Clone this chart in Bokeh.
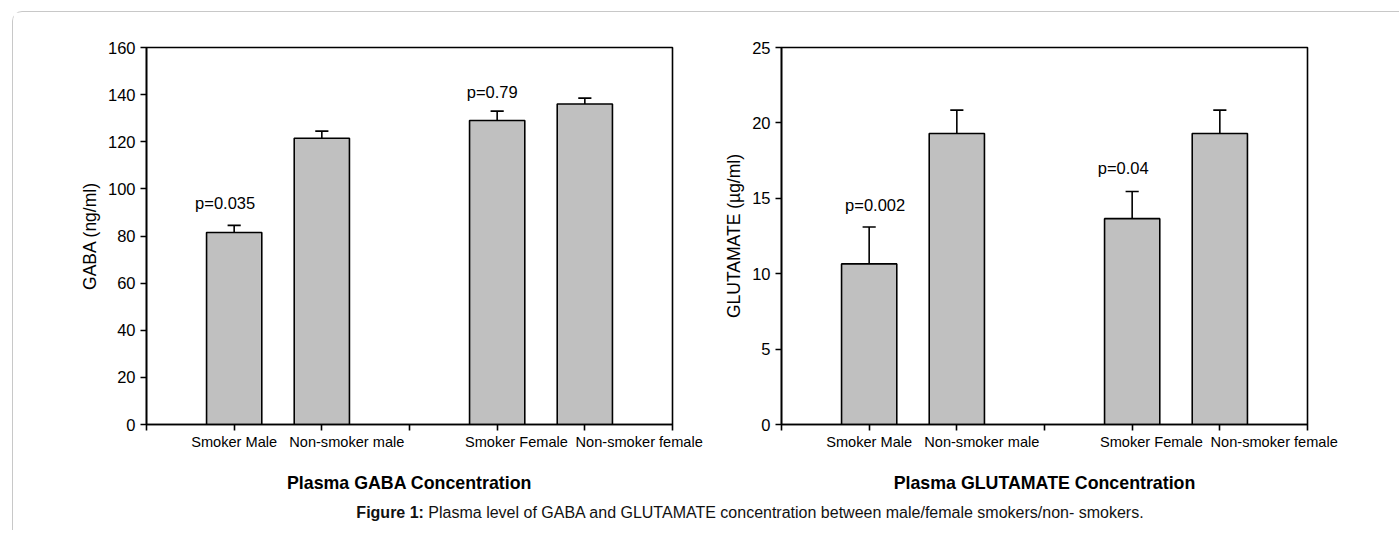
from bokeh.plotting import figure
from bokeh.models import Range1d, FixedTicker, ColumnDataSource, LabelSet, Div, Spacer
from bokeh.layouts import row, column
from bokeh.core.properties import value
from bokeh.embed import file_html
from bokeh.resources import INLINE

# ---------------- data ----------------
categories = ["Smoker Male", "Non-smoker male", "Smoker Female", "Non-smoker female"]
groups = [0, 0, 1, 1]          # male / female
within = [0, 1, 0, 1]          # smoker / non-smoker
gaba_mean = [81.5, 121.5, 129.0, 136.0]
gaba_err = [3.0, 3.0, 4.0, 2.5]
glut_mean = [10.65, 19.3, 13.65, 19.3]
glut_err = [2.45, 1.55, 1.8, 1.55]
gaba_p = ["p=0.035", "", "p=0.79", ""]
glut_p = ["p=0.002", "", "p=0.04", ""]
gaba_ticks = [0, 20, 40, 60, 80, 100, 120, 140, 160]
glut_ticks = [0, 5, 10, 15, 20, 25]

# ---------------- style / layout ----------------
FONT = value("Liberation Sans")
BAR_W = 0.63
CAP_W = 0.15
LABEL_SHIFT = [0.0, 0.285, 0.22, 0.62]   # category labels sit off to the right, as in the original
GABA_P_DX = [-9, 0, -5, 0]               # pixel nudges of the p-value notes
GABA_P_DY = [16, 0, 13, 0]
GLUT_P_DX = [6, 0, -9, 0]
GLUT_P_DY = [16, 0, 18, 0]
slots = [3 * g + w + 1 for g, w in zip(groups, within)]
label_pos = [round(s + d, 3) for s, d in zip(slots, LABEL_SHIFT)]


def make_chart(means, errs, ptxt, pdx, pdy, ticks, ymax, ylabel, xtitle, mb_left, mb_right):
    hi = [m + e for m, e in zip(means, errs)]
    src = ColumnDataSource(dict(
        x=slots, v=means, hi=hi,
        cl=[s - CAP_W / 2 for s in slots], cr=[s + CAP_W / 2 for s in slots],
        p=ptxt, dx=pdx, dy=pdy,
    ))
    p = figure(width=mb_left + 526 + mb_right, height=484,
               x_range=Range1d(0, 6), y_range=Range1d(0, ymax),
               toolbar_location=None, output_backend="svg",
               min_border_left=mb_left, min_border_right=mb_right,
               min_border_top=35, min_border_bottom=72)
    p.grid.visible = False
    p.background_fill_color = "white"
    p.border_fill_color = "white"
    p.outline_line_color = "black"
    p.outline_line_width = 1.6

    p.segment(x0="x", y0="v", x1="x", y1="hi", source=src, line_color="black", line_width=1.6)
    p.segment(x0="cl", y0="hi", x1="cr", y1="hi", source=src, line_color="black", line_width=1.6)
    p.vbar(x="x", top="v", bottom=0, width=BAR_W, source=src,
           fill_color="#c0c0c0", line_color="black", line_width=1.6)

    ya = p.yaxis[0]
    ya.ticker = FixedTicker(ticks=ticks)
    ya.axis_label = ylabel
    ya.axis_label_text_font = "Liberation Sans"
    ya.axis_label_text_font_style = "normal"
    ya.axis_label_text_font_size = "17.5px"
    ya.axis_label_text_color = "black"
    ya.axis_label_standoff = 5
    ya.major_label_text_font = "Liberation Sans"
    ya.major_label_text_font_size = "16.5px"
    ya.major_label_text_color = "black"
    ya.major_label_standoff = 5
    ya.major_tick_out = 6
    ya.major_tick_in = 0
    ya.minor_tick_line_color = None
    ya.axis_line_width = 1.6
    ya.major_tick_line_width = 1.6
    ya.axis_line_color = "black"
    ya.major_tick_line_color = "black"

    xa = p.xaxis[0]
    xa.ticker = FixedTicker(ticks=label_pos, minor_ticks=[0, 1, 2, 3, 4, 5, 6])
    xa.major_label_overrides = {lp: c for lp, c in zip(label_pos, categories)}
    xa.major_label_text_font = "Liberation Sans"
    xa.major_label_text_font_size = "14.6px"
    xa.major_label_text_color = "black"
    xa.major_label_standoff = 3
    xa.major_tick_out = 6
    xa.major_tick_in = 0
    xa.major_tick_line_color = None
    xa.minor_tick_out = 6
    xa.minor_tick_in = 0
    xa.minor_tick_line_color = "black"
    xa.minor_tick_line_width = 1.6
    xa.axis_label = xtitle
    xa.axis_label_text_font = "Liberation Sans"
    xa.axis_label_text_font_style = "bold"
    xa.axis_label_text_font_size = "17.8px"
    xa.axis_label_text_color = "black"
    xa.axis_label_standoff = 20
    xa.axis_line_width = 1.6
    xa.axis_line_color = "black"

    p.add_layout(LabelSet(x="x", y="hi", text="p", source=src, x_offset="dx", y_offset="dy",
                          text_align="center", text_baseline="alphabetic",
                          text_font=FONT, text_font_size="16.5px", text_color="black"))
    return p


p1 = make_chart(gaba_mean, gaba_err, gaba_p, GABA_P_DX, GABA_P_DY, gaba_ticks, 160,
                "GABA (ng/ml)", "Plasma GABA Concentration", 133, 43)
p2 = make_chart(glut_mean, glut_err, glut_p, GLUT_P_DX, GLUT_P_DY, glut_ticks, 25,
                "GLUTAMATE (\u00b5g/ml)", "Plasma GLUTAMATE Concentration", 66, 92)

caption = Div(
    text="<b>Figure 1:</b> Plasma level of GABA and GLUTAMATE concentration between male/female smokers/non- smokers.",
    width=1292, height=24,
    styles={"font-family": "Liberation Sans, Arial, sans-serif", "font-size": "16px",
            "line-height": "24px", "text-align": "center", "color": "#111"},
)

layout = column(
    row(p1, p2),
    row(Spacer(width=86, height=24), caption),
    margin=(11, 0, 0, 12),
    styles={"border-left": "1px solid #c8c8c8", "border-top": "1px solid #c8c8c8",
            "border-top-left-radius": "10px", "background": "white"},
)

open("out.html", "w").write(file_html(layout, INLINE))
